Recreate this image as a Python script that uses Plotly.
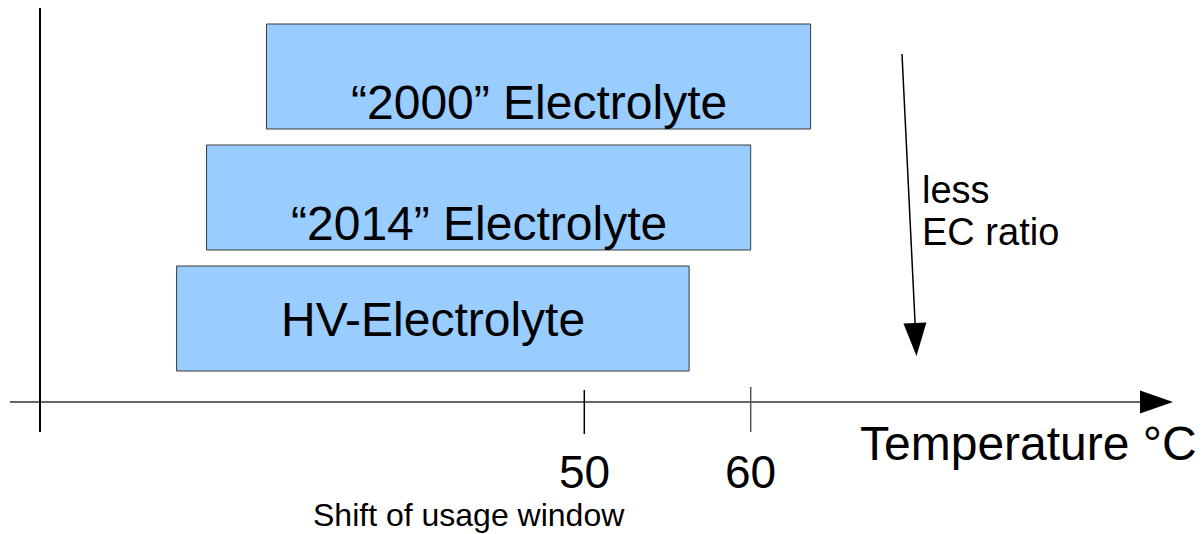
import numpy as np
import plotly.graph_objects as go

# Usage windows (°C) of the three electrolyte generations
electrolytes = ["“2000” Electrolyte", "“2014” Electrolyte", "HV-Electrolyte"]
window_start = [30.9, 27.3, 25.5]
window_end = [63.6, 60.0, 56.3]
tick_values = [50, 60]
tick_labels = ["50", "60"]
axis_title = "Temperature °C"
arrow_note = ["less", "EC ratio"]
caption = "Shift of usage window"

W, H = 1203, 534
FONT = "Liberation Sans"

# horizontal scale: pixels per °C and pixel of the 50 °C mark
PX_PER_DEG = 16.64
PX_50 = 584.3


def tx(px):
    """Screen x pixel -> temperature."""
    return 50 + (px - PX_50) / PX_PER_DEG


def py(px):
    """Screen y pixel -> paper fraction."""
    return 1 - px / H


widths = [e - s for s, e in zip(window_start, window_end)]

fig = go.Figure()
fig.add_trace(go.Bar(
    y=electrolytes, x=widths, base=window_start, orientation="h",
    marker=dict(color="#99ccff", line=dict(color="#3a3a3a", width=1)),
    hoverinfo="skip", showlegend=False,
))

# labels inside the bars (the upper two sit a little lower in their box)
label_shift = [-26, -26, -1]
for name, s, e, dy in zip(electrolytes, window_start, window_end, label_shift):
    fig.add_annotation(x=(s + e) / 2, y=name, yshift=dy, text=name, showarrow=False,
                       font=dict(family=FONT, size=48, color="black"),
                       xanchor="center", yanchor="middle")

shapes = []
# temperature axis line and its arrowhead
axis_y = py(402)
shapes.append(dict(type="line", xref="x", yref="paper", x0=tx(10), x1=tx(1145),
                   y0=axis_y, y1=axis_y, line=dict(color="#666666", width=2)))
shapes.append(dict(type="path", xref="x", yref="paper", xsizemode="pixel", ysizemode="pixel",
                   xanchor=tx(1173), yanchor=axis_y,
                   path="M0,0 L-33,11.5 L-33,-11.5 Z",
                   fillcolor="black", line=dict(width=0)))
# vertical reference line on the left
shapes.append(dict(type="line", xref="x", yref="paper", x0=tx(40), x1=tx(40),
                   y0=py(8), y1=py(432), line=dict(color="black", width=2)))
# tick marks
tick_spans = [(390, 434, "black"), (387, 432, "#555555")]
for v, (a, b, c) in zip(tick_values, tick_spans):
    shapes.append(dict(type="line", xref="x", yref="paper", x0=v, x1=v,
                       y0=py(a), y1=py(b), line=dict(color=c, width=1.5)))

# "less EC ratio" arrow
tail = (902, 54)
tip = (916.5, 356)
head_len, head_half = 33, 11.5
d = np.array([tail[0] - tip[0], -(tail[1] - tip[1])], dtype=float)  # up-positive
d /= np.linalg.norm(d)
perp = np.array([d[1], -d[0]])
base = d * head_len
c1 = base + perp * head_half
c2 = base - perp * head_half
shapes.append(dict(type="line", xref="x", yref="paper",
                   x0=tx(tail[0]), y0=py(tail[1]),
                   x1=tx(tip[0] - 1.2), y1=py(tip[1] - 28),
                   line=dict(color="black", width=1.5)))
shapes.append(dict(type="path", xref="x", yref="paper", xsizemode="pixel", ysizemode="pixel",
                   xanchor=tx(tip[0]), yanchor=py(tip[1]),
                   path=f"M0,0 L{c1[0]:.2f},{c1[1]:.2f} L{c2[0]:.2f},{c2[1]:.2f} Z",
                   fillcolor="black", line=dict(width=0)))

# tick labels
for v, lab in zip(tick_values, tick_labels):
    fig.add_annotation(x=v, y=py(472), xref="x", yref="paper", text=lab, showarrow=False,
                       font=dict(family=FONT, size=46, color="black"),
                       xanchor="center", yanchor="middle")

fig.add_annotation(x=tx(858), y=py(443), xref="x", yref="paper", text=axis_title,
                   showarrow=False, font=dict(family=FONT, size=48, color="black"),
                   xanchor="left", yanchor="middle")
for txt, yc in zip(arrow_note, [190, 232]):
    fig.add_annotation(x=tx(920), y=py(yc), xref="x", yref="paper", text=txt,
                       showarrow=False, font=dict(family=FONT, size=38, color="black"),
                       xanchor="left", yanchor="middle")
fig.add_annotation(x=tx(469), y=0, xref="x", yref="paper", text=caption,
                   showarrow=False, font=dict(family=FONT, size=32, color="black"),
                   xanchor="center", yanchor="bottom", borderpad=0)

# category index -> pixel: row 0 centred at 76.5 px, 121 px per row
row0, row_px = 76.5, 121.0
fig.update_layout(
    width=W, height=H, margin=dict(l=0, r=0, t=0, b=0),
    paper_bgcolor="white", plot_bgcolor="white",
    bargap=1 - 105 / row_px,
    shapes=shapes,
    xaxis=dict(range=[tx(0), tx(W)], visible=False, fixedrange=True),
    yaxis=dict(type="category", categoryorder="array", categoryarray=electrolytes,
               range=[(H - row0) / row_px, -row0 / row_px], visible=False, fixedrange=True),
)

fig.write_html("out.html")
